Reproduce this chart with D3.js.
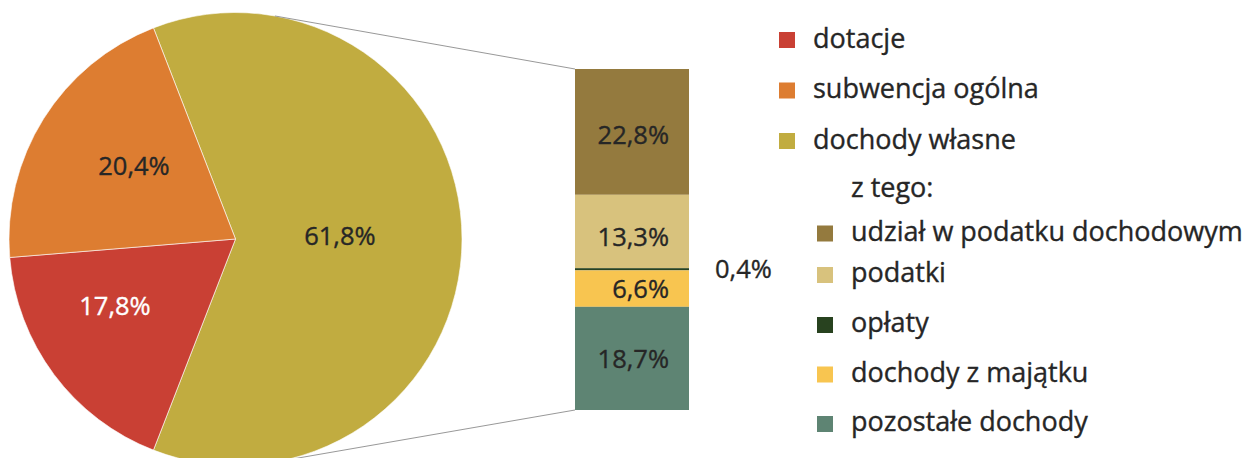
<!DOCTYPE html>
<meta charset="utf-8">
<style>
  body { margin: 0; background: #fff; }
  text { font-family: "Open Sans", sans-serif; fill: #262626; stroke-width: 0.35px; }
</style>
<body>
<script src="https://cdn.jsdelivr.net/npm/d3@7"></script>
<script>
// main pie: share of revenue
var pieNames = ["dochody własne", "dotacje", "subwencja ogólna"];
var pieValues = [61.8, 17.8, 20.4];
var pieLabels = ["61,8%", "17,8%", "20,4%"];
var pieColors = ["#c1ac40", "#c94034", "#dd7d31"];

// bar: breakdown of dochody własne
var barNames = ["udział w podatku dochodowym", "podatki", "opłaty", "dochody z majątku", "pozostałe dochody"];
var barValues = [22.8, 13.3, 0.4, 6.6, 18.7];
var barLabels = ["22,8%", "13,3%", "0,4%", "6,6%", "18,7%"];
var barColors = ["#947a3e", "#d8c27d", "#28421f", "#f8c550", "#5e8473"];

var legendMain = ["dotacje", "subwencja ogólna", "dochody własne"];
var legendMainColors = ["#c94034", "#dd7d31", "#c1ac40"];

var width = 1251, height = 458;

var svg = d3.select("body").append("svg")
    .attr("width", width)
    .attr("height", height);

// pie geometry
var cx = 235.5, cy = 239, R = 226.5;
// olive slice centred on the right side
var start = Math.PI / 2 - pieValues[0] / 100 * Math.PI;

var pie = d3.pie().sort(null)
    .startAngle(start).endAngle(start + 2 * Math.PI);
var arcs = pie(pieValues);
var arc = d3.arc().innerRadius(0).outerRadius(R);

var gPie = svg.append("g").attr("transform", "translate(" + cx + "," + cy + ")");

gPie.selectAll("path")
    .data(arcs)
  .enter().append("path")
    .attr("d", arc)
    .attr("fill", function(d, i) { return pieColors[i]; })
    .attr("stroke", "#fff")
    .attr("stroke-width", 0.6);

// label radius (fraction of R) and angle nudge per slice
var lblR = [0.461, 0.609, 0.552];
var lblShift = [0, 0.133, 0.064];
gPie.selectAll("text.lbl")
    .data(arcs)
  .enter().append("text")
    .attr("class", "lbl")
    .attr("transform", function(d, i) {
      var r = R * lblR[i];
      var a = (d.startAngle + d.endAngle) / 2 + lblShift[i];
      if (i == 0) a = Math.PI / 2 - 0.03;
      return "translate(" + (Math.sin(a) * r) + "," + (-Math.cos(a) * r) + ")";
    })
    .attr("text-anchor", "middle")
    .attr("dy", "0.36em")
    .style("font-size", "25.5px")
    .style("fill", function(d, i) { return i == 1 ? "#fff" : "#262626"; })
    .style("stroke", function(d, i) { return i == 1 ? "#fff" : "#262626"; })
    .text(function(d, i) { return pieLabels[i]; });

// bar of the split slice
var barX = 575, barW = 114, barTop = 69, barBottom = 410;
var y = d3.scaleLinear().domain([0, d3.sum(barValues)]).range([barTop, barBottom]);
var cum = 0;
var segs = barValues.map(function(v, i) {
  var s = { i: i, y0: cum, y1: cum + v };
  cum += v;
  return s;
});

svg.selectAll("rect.seg")
    .data(segs)
  .enter().append("rect")
    .attr("class", "seg")
    .attr("x", barX)
    .attr("width", barW)
    .attr("y", function(d) { return y(d.y0); })
    .attr("height", function(d) { return y(d.y1) - y(d.y0); })
    .attr("fill", function(d) { return barColors[d.i]; });

var segNudge = [3, 5, 0, 0, 0];
svg.selectAll("text.seglbl")
    .data(segs)
  .enter().append("text")
    .attr("class", "seglbl")
    .attr("x", function(d) { return d.i == 2 ? barX + barW + 26 : barX + barW - 20; })
    .attr("y", function(d) { return (y(d.y0) + y(d.y1)) / 2 + segNudge[d.i]; })
    .attr("dy", "0.36em")
    .attr("text-anchor", function(d) { return d.i == 2 ? "start" : "end"; })
    .style("font-size", "25.5px")
    .style("stroke", "#262626")
    .text(function(d) { return barLabels[d.i]; });

// connector lines: tangents from bar corners to the pie
function tangent(px, py, upper) {
  var dx = px - cx, dy = py - cy;
  var d = Math.sqrt(dx * dx + dy * dy);
  var base = Math.atan2(dy, dx);
  var off = Math.acos(R / d);
  var a = upper ? base - off : base + off;
  return [cx + R * Math.cos(a), cy + R * Math.sin(a)];
}
[[barTop, true], [barBottom, false]].forEach(function(c) {
  var t = tangent(barX, c[0], c[1]);
  svg.append("line")
      .attr("x1", t[0]).attr("y1", t[1])
      .attr("x2", barX).attr("y2", c[0])
      .attr("stroke", "#8c8c8c")
      .attr("stroke-width", 0.9);
});

// legend
var lg = svg.append("g");
legendMain.forEach(function(name, i) {
  var yy = 40 + i * 50.5;
  lg.append("rect").attr("x", 779).attr("y", yy - 8).attr("width", 16).attr("height", 16)
      .attr("fill", legendMainColors[i]);
  lg.append("text").attr("x", 813).attr("y", yy + 7.5)
      .style("font-size", "27px").style("stroke", "#262626").text(name);
});

lg.append("text").attr("x", 851).attr("y", 197)
    .style("font-size", "27px").style("stroke", "#262626").text("z tego:");

var subRowY = [233.5, 275, 325, 374.5, 424];
barNames.forEach(function(name, i) {
  var yy = subRowY[i];
  lg.append("rect").attr("x", 817).attr("y", yy - 8).attr("width", 16).attr("height", 16)
      .attr("fill", barColors[i]);
  lg.append("text").attr("x", 851).attr("y", yy + 7)
      .style("font-size", "27px").style("stroke", "#262626").text(name);
});
</script>
</body>
